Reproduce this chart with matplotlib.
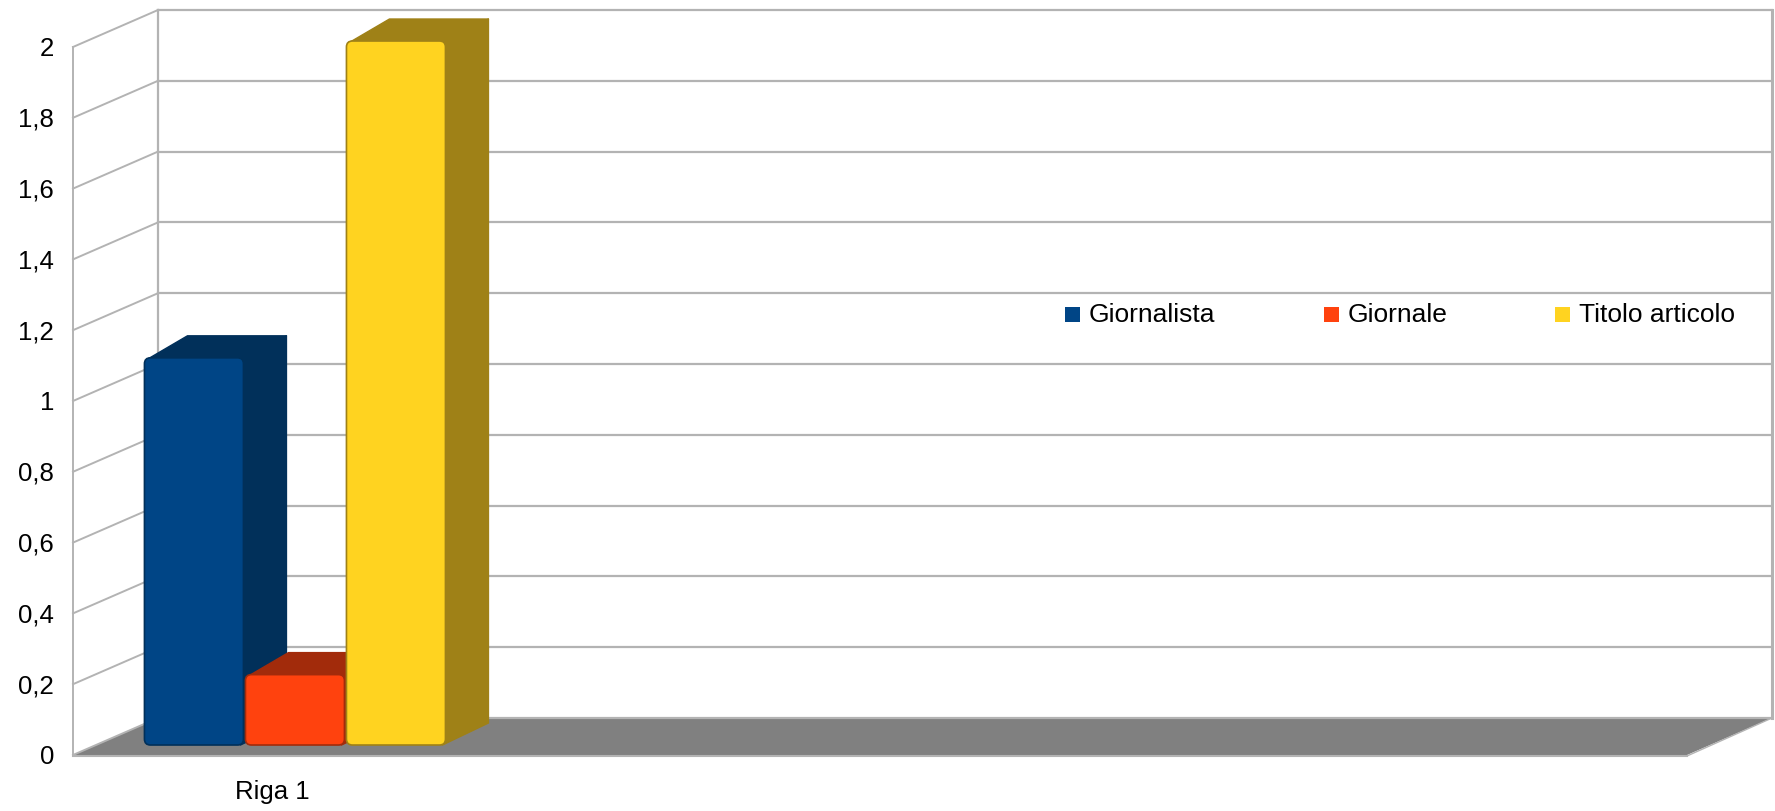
import matplotlib
matplotlib.use("Agg")
import matplotlib.pyplot as plt
from matplotlib.patches import Polygon, FancyBboxPatch, Rectangle

plt.rcParams['font.family'] = ['Liberation Sans', 'DejaVu Sans']

# data
category = "Riga 1"
series = ["Giornalista", "Giornale", "Titolo articolo"]
values = [1.1, 0.2, 2.0]
front_cols = ["#004586", "#ff420e", "#ffd320"]
dark_cols = ["#01305a", "#a22b0b", "#9f8117"]
ticks = [0, 0.2, 0.4, 0.6, 0.8, 1, 1.2, 1.4, 1.6, 1.8, 2]

# projection (pixels): front-left corner, depth offset, value scale
x_front, x_right = 73, 1687
y0 = 755
unit = 354
dx, dy = 85, 37
grid_c = "#b3b3b3"


def py(v, z=0.0):
    return y0 - v * unit - z * dy


def px(x, z=0.0):
    return x + z * dx


fig = plt.figure(figsize=(17.75, 8.11), dpi=100)
ax = fig.add_axes([0, 0, 1, 1])
ax.set_xlim(0, 1775)
ax.set_ylim(811, 0)
ax.axis("off")

vmax = ticks[-1]
# floor
ax.add_patch(Polygon([(px(x_front), py(0)), (px(x_front, 1), py(0, 1)),
                      (px(x_right, 1), py(0, 1)), (px(x_right), py(0))],
                     closed=True, fc="#808080", ec="none", zorder=1))
ax.plot([px(x_front), px(x_right)], [py(0) + 1, py(0) + 1], color=grid_c, lw=1.5, zorder=2)
ax.plot([px(x_right), px(x_right, 1)], [py(0) + 1, py(0, 1)], color=grid_c, lw=1, zorder=2)

# back wall and side wall grid
for t in ticks:
    ax.plot([px(x_front, 1), px(x_right, 1)], [py(t, 1), py(t, 1)], color=grid_c, lw=1.6, zorder=2)
    ax.plot([px(x_front), px(x_front, 1)], [py(t), py(t, 1)], color=grid_c, lw=1.4, zorder=2)
    lab = ("%g" % t).replace(".", ",")
    ax.text(54, py(t) + 2, lab, ha="right", va="center", fontsize=18.5, color="black")
ax.plot([px(x_front), px(x_front)], [py(0), py(vmax)], color=grid_c, lw=1.4, zorder=2)
ax.plot([px(x_front, 1), px(x_front, 1)], [py(0, 1), py(vmax, 1)], color=grid_c, lw=1.6, zorder=2)
ax.plot([px(x_right, 1), px(x_right, 1)], [py(0, 1), py(vmax, 1)], color=grid_c, lw=2.2, zorder=2)

# bars
bar_w = 99
gap = 2
z_bar = 0.27
bdx, bdy = 43, 22
cat_x = 272
n = len(values)
start = px(cat_x, z_bar) - (n * bar_w + (n - 1) * gap) / 2
ybot = py(0, z_bar)
for i, (v, fc, dc) in enumerate(zip(values, front_cols, dark_cols)):
    x0 = start + i * (bar_w + gap)
    x1 = x0 + bar_w
    ytop = ybot - v * 352
    side = Polygon([(x1 - 3, ytop), (x1 + bdx, ytop - bdy), (x1 + bdx, ybot - bdy), (x1 - 3, ybot)],
                   closed=True, fc=dc, ec=dc, lw=1, joinstyle="round", zorder=3 + i)
    top = Polygon([(x0 + 2, ytop + 2), (x0 + bdx, ytop - bdy), (x1 + bdx, ytop - bdy), (x1, ytop + 2)],
                  closed=True, fc=dc, ec=dc, lw=1, joinstyle="round", zorder=3 + i)
    ax.add_patch(side)
    ax.add_patch(top)
    front = FancyBboxPatch((x0, ytop), bar_w, ybot - ytop,
                           boxstyle="round,pad=0,rounding_size=6",
                           fc=fc, ec=dc, lw=1.2, zorder=3 + i)
    ax.add_patch(front)

ax.text(cat_x, 792, category, ha="center", va="center", fontsize=18.5, color="black")

# legend
leg_x = [1065, 1324, 1555]
for lx, name, fc in zip(leg_x, series, front_cols):
    ax.add_patch(Rectangle((lx, 307), 15, 15, fc=fc, ec="none", zorder=5))
    ax.text(lx + 24, 315, name, ha="left", va="center", fontsize=19, color="black")

fig.savefig("out.png", dpi=100)
